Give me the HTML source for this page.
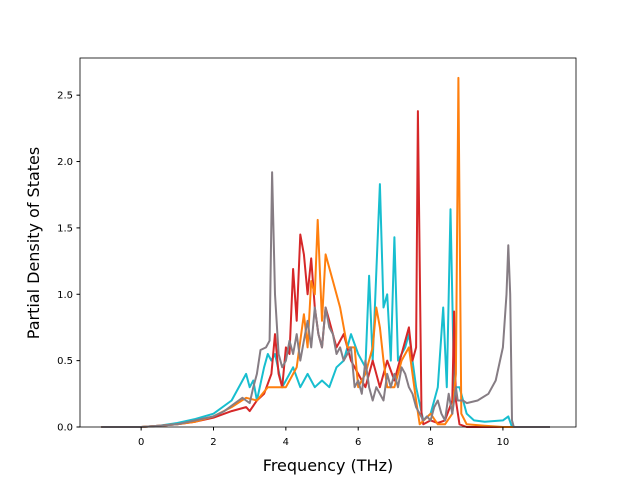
<!DOCTYPE html>
<html><head><meta charset="utf-8"><style>
html,body{margin:0;padding:0;background:#fff;}
svg text{font-family:"DejaVu Sans","Liberation Sans",sans-serif;}
</style></head><body>
<svg width="640" height="480" id="chart">
<rect x="0" y="0" width="640" height="480" fill="#fff"/>
<g id="series"></g>
<g id="axes"></g>
<text x="328" y="471" font-size="16" text-anchor="middle">Frequency (THz)</text>
<text x="39" y="243" font-size="16" text-anchor="middle" transform="rotate(-90 39 243)">Partial Density of States</text>
</svg>
<script>
const xTicks=[0,2,4,6,8,10];
const yTicks=[0.0,0.5,1.0,1.5,2.0,2.5];
const yTickLabels=["0.0","0.5","1.0","1.5","2.0","2.5"];
const seriesNames=["cyan","red","orange","gray"];
const seriesColors=["#17becf","#d62728","#ff7f0e","#867d84"];
const cyanF=[-1.1,0,0.5,1,1.5,2,2.5,2.9,3.0,3.1,3.2,3.4,3.5,3.6,3.7,3.9,4.0,4.2,4.4,4.6,4.8,5.0,5.2,5.4,5.6,5.8,6.0,6.2,6.3,6.4,6.6,6.7,6.8,6.9,7.0,7.1,7.3,7.4,7.5,7.6,7.8,8.0,8.2,8.35,8.45,8.55,8.65,8.8,9.0,9.2,9.5,10.0,10.15,10.25,11.3];
const cyanV=[0,0,0.01,0.03,0.06,0.1,0.2,0.4,0.3,0.35,0.2,0.45,0.55,0.5,0.55,0.3,0.35,0.45,0.3,0.4,0.3,0.35,0.3,0.45,0.5,0.7,0.55,0.45,1.14,0.5,1.83,0.9,1.0,0.5,1.43,0.5,0.6,0.7,0.5,0.3,0.05,0.1,0.3,0.9,0.3,1.64,0.3,0.3,0.1,0.05,0.04,0.05,0.08,0,0];
const redF=[-1.1,0,0.5,1,1.5,2,2.5,2.9,3.0,3.2,3.4,3.6,3.7,3.8,3.9,4.0,4.1,4.2,4.3,4.4,4.5,4.6,4.7,4.8,4.9,5.0,5.1,5.2,5.4,5.6,5.8,6.0,6.2,6.4,6.6,6.8,7.0,7.2,7.4,7.5,7.6,7.65,7.75,7.8,8.0,8.2,8.4,8.6,8.65,8.7,8.8,9.0,11.3];
const redV=[0,0,0.01,0.02,0.04,0.07,0.12,0.15,0.12,0.2,0.25,0.4,0.7,0.4,0.3,0.6,0.55,1.19,0.8,1.45,1.3,1.0,1.27,0.9,0.7,0.6,0.9,0.8,0.6,0.7,0.5,0.4,0.3,0.5,0.3,0.5,0.35,0.55,0.75,0.5,0.6,2.38,0.1,0.02,0.05,0.03,0.05,0.2,0.87,0.2,0.02,0,0];
const orangeF=[-1.1,0,0.5,1,1.5,2,2.5,2.9,3.2,3.5,3.7,4.0,4.3,4.5,4.6,4.7,4.8,4.88,5.0,5.1,5.3,5.5,5.7,5.9,6.0,6.2,6.4,6.5,6.6,6.7,6.8,7.0,7.2,7.4,7.6,7.7,8.0,8.2,8.4,8.6,8.7,8.77,8.85,9.0,9.5,10.0,11.3];
const orangeV=[0,0,0.01,0.02,0.04,0.08,0.15,0.22,0.2,0.3,0.3,0.3,0.45,0.85,0.6,1.1,1.0,1.56,0.8,1.3,1.1,0.9,0.6,0.6,0.3,0.4,0.6,0.9,0.75,0.5,0.3,0.3,0.5,0.6,0.2,0.02,0.1,0.02,0.02,0.1,0.4,2.63,0.1,0.02,0.01,0,0];
const grayF=[-1.1,0,0.5,1,1.5,2,2.3,2.6,2.8,2.9,3.0,3.1,3.2,3.3,3.45,3.55,3.62,3.7,3.8,3.9,4.0,4.1,4.2,4.3,4.4,4.5,4.6,4.7,4.8,4.9,5.0,5.1,5.2,5.3,5.4,5.5,5.6,5.8,5.9,6.0,6.1,6.2,6.3,6.4,6.5,6.6,6.7,6.8,6.9,7.0,7.1,7.2,7.3,7.4,7.5,7.6,7.7,7.8,7.9,8.0,8.1,8.2,8.3,8.4,8.5,8.6,8.7,8.75,8.8,8.9,9.0,9.3,9.6,9.8,10.0,10.1,10.15,10.2,10.25,10.3,11.3];
const grayV=[0,0,0.01,0.02,0.05,0.08,0.12,0.18,0.22,0.2,0.18,0.3,0.4,0.58,0.6,0.65,1.92,1.0,0.55,0.45,0.5,0.65,0.55,0.7,0.5,0.65,0.8,0.6,0.9,0.7,0.6,0.9,0.75,0.7,0.55,0.6,0.5,0.6,0.3,0.35,0.25,0.5,0.3,0.2,0.3,0.25,0.2,0.4,0.3,0.4,0.3,0.45,0.4,0.3,0.25,0.15,0.1,0.05,0.08,0.05,0.15,0.2,0.1,0.05,0.25,0.1,0.3,0.2,0.2,0.2,0.18,0.2,0.25,0.35,0.6,1.0,1.37,1.0,0.05,0,0];
const seriesF=[cyanF,redF,orangeF,grayF];
const seriesV=[cyanV,redV,orangeV,grayV];

const L=80,R=576,T=58,B=427;
const xMin=-1.69,xMax=12.02,yMin=0,yMax=2.78;
function xs(v){return L+(v-xMin)/(xMax-xMin)*(R-L);}
function ys(v){return B-(v-yMin)/(yMax-yMin)*(B-T);}
const NS="http://www.w3.org/2000/svg";
const sg=document.getElementById('series');
for(let s=0;s<seriesF.length;s++){
  const p=document.createElementNS(NS,'polyline');
  p.setAttribute('points',seriesF[s].map((f,i)=>xs(f).toFixed(1)+','+ys(seriesV[s][i]).toFixed(1)).join(' '));
  p.setAttribute('fill','none');p.setAttribute('stroke',seriesColors[s]);
  p.setAttribute('stroke-width','2');p.setAttribute('stroke-linejoin','round');
  
  
  sg.appendChild(p);
}
const ax=document.getElementById('axes');
const fr=document.createElementNS(NS,'rect');
fr.setAttribute('x',L);fr.setAttribute('y',T);fr.setAttribute('width',R-L);fr.setAttribute('height',B-T);
fr.setAttribute('fill','none');fr.setAttribute('stroke','#000');fr.setAttribute('stroke-width','0.8');


ax.appendChild(fr);
xTicks.forEach(t=>{
  const l=document.createElementNS(NS,'line');
  l.setAttribute('x1',xs(t));l.setAttribute('x2',xs(t));l.setAttribute('y1',B);l.setAttribute('y2',B+3.5);l.setAttribute('stroke','#000');
  
  
  ax.appendChild(l);
  const tx=document.createElementNS(NS,'text');
  tx.setAttribute('x',xs(t));tx.setAttribute('y',B+18);tx.setAttribute('font-size','10');tx.setAttribute('text-anchor','middle');
  tx.textContent=t;
  
  
  ax.appendChild(tx);
});
yTicks.forEach((t,i)=>{
  const l=document.createElementNS(NS,'line');
  l.setAttribute('x1',L-3.5);l.setAttribute('x2',L);l.setAttribute('y1',ys(t));l.setAttribute('y2',ys(t));l.setAttribute('stroke','#000');
  
  
  ax.appendChild(l);
  const tx=document.createElementNS(NS,'text');
  tx.setAttribute('x',L-7);tx.setAttribute('y',ys(t)+3.5);tx.setAttribute('font-size','10');tx.setAttribute('text-anchor','end');
  tx.textContent=yTickLabels[i];
  
  
  ax.appendChild(tx);
});
</script>
</body></html>
